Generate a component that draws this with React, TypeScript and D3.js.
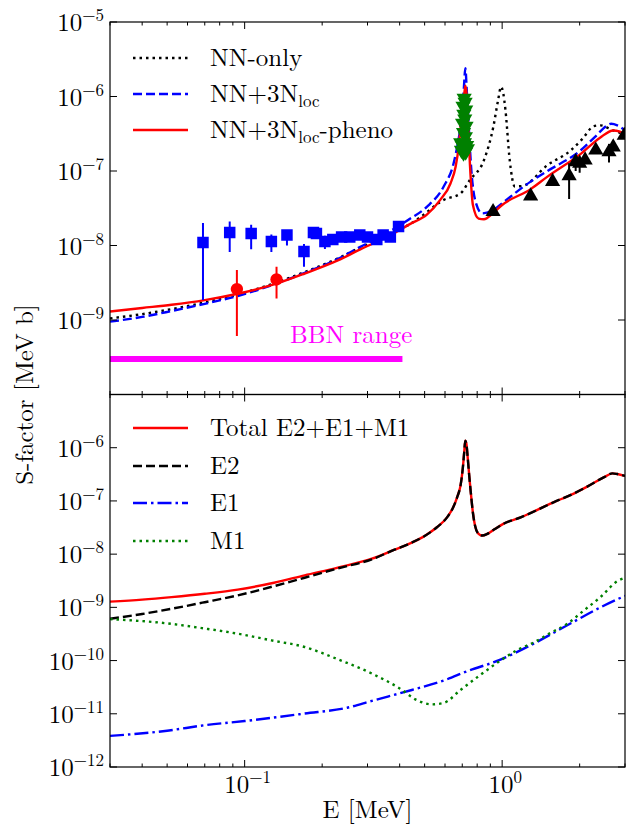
import React from "react";
import * as d3 from "d3";

type Pt = [number, number];

// top panel curves: [E (MeV), S (MeV b)]
const nnOnly: Pt[] = [
  [0.03, 1.05e-9], [0.04, 1.2e-9], [0.052, 1.4e-9], [0.07, 1.72e-9], [0.094, 2.2e-9],
  [0.13, 3.1e-9], [0.171, 4.4e-9], [0.23, 6.7e-9], [0.28, 9.3e-9], [0.33, 1.2e-8],
  [0.378, 1.5e-8], [0.44, 1.95e-8], [0.481, 2.4e-8], [0.593, 4.1e-8], [0.689, 5.0e-8],
  [0.75, 7.6e-8], [0.85, 1.4e-7], [0.924, 3.9e-7], [0.965, 9e-7], [0.99, 1.35e-6],
  [1.01, 1.1e-6], [1.03, 6.6e-7], [1.07, 1.4e-7], [1.12, 6.2e-8], [1.2, 6.3e-8],
  [1.5, 1.2e-7], [1.85, 1.9e-7], [2.05, 2.7e-7], [2.27, 4.0e-7], [2.4, 4.1e-7],
  [2.7, 3.5e-7], [3.0, 3.1e-7],
];

const nn3nLoc: Pt[] = [
  [0.03, 9.5e-10], [0.04, 1.1e-9], [0.052, 1.32e-9], [0.07, 1.65e-9], [0.094, 2.1e-9],
  [0.13, 3.0e-9], [0.171, 4.3e-9], [0.23, 6.6e-9], [0.28, 9.5e-9], [0.33, 1.27e-8],
  [0.378, 1.65e-8], [0.44, 2.3e-8], [0.51, 3.3e-8], [0.593, 6.2e-8], [0.648, 1.27e-7],
  [0.675, 2.5e-7], [0.689, 3.9e-7], [0.708, 1.1e-6], [0.72, 2.4e-6], [0.728, 1.3e-6],
  [0.736, 6.6e-7], [0.76, 9.8e-8], [0.785, 4.1e-8], [0.836, 2.7e-8], [0.924, 3.0e-8],
  [1.0, 3.7e-8], [1.29, 7.2e-8], [1.5, 1.0e-7], [2.02, 1.9e-7], [2.3, 2.9e-7],
  [2.56, 4.1e-7], [2.65, 4.3e-7], [2.8, 4.1e-7], [3.0, 3.5e-7],
];

const nn3nPheno: Pt[] = [
  [0.03, 1.3e-9], [0.04, 1.45e-9], [0.052, 1.6e-9], [0.07, 1.85e-9], [0.094, 2.25e-9],
  [0.13, 3.0e-9], [0.171, 4.2e-9], [0.23, 6.3e-9], [0.28, 8.8e-9], [0.33, 1.15e-8],
  [0.378, 1.45e-8], [0.44, 1.95e-8], [0.51, 2.6e-8], [0.575, 4.1e-8], [0.63, 6.8e-8],
  [0.66, 1.15e-7], [0.68, 2.3e-7], [0.7, 6.6e-7], [0.713, 1.1e-6], [0.72, 1.4e-6],
  [0.727, 1.1e-6], [0.735, 5.5e-7], [0.75, 1.2e-7], [0.77, 3.5e-8], [0.81, 2.3e-8],
  [0.85, 2.25e-8], [0.92, 2.7e-8], [1.0, 3.5e-8], [1.29, 5.7e-8], [1.5, 8.4e-8],
  [2.02, 1.7e-7], [2.4, 2.8e-7], [2.7, 3.5e-7], [2.85, 3.4e-7], [3.0, 3.1e-7],
];

// experimental data: [E, S, low, high]
const blueSquares: [number, number, number, number][] = [
  [0.0689, 1.1e-8, 1.85e-9, 2.0e-8], [0.0875, 1.5e-8, 8.2e-9, 2.1e-8], [0.106, 1.45e-8, 8.9e-9, 1.9e-8],
  [0.127, 1.13e-8, 8.2e-9, 1.4e-8], [0.146, 1.38e-8, 1.0e-8, 1.6e-8], [0.17, 8.3e-9, 5.2e-9, 1.05e-8],
  [0.185, 1.5e-8, 1.25e-8, 1.6e-8], [0.19, 1.45e-8, 1.3e-8, 1.6e-8], [0.205, 1.13e-8, 9e-9, 1.35e-8],
  [0.22, 1.2e-8, 1.05e-8, 1.35e-8], [0.238, 1.3e-8, 1.15e-8, 1.45e-8], [0.256, 1.3e-8, 1.15e-8, 1.45e-8],
  [0.28, 1.38e-8, 1.2e-8, 1.5e-8], [0.3, 1.3e-8, 1.15e-8, 1.45e-8], [0.326, 1.2e-8, 1.05e-8, 1.35e-8],
  [0.345, 1.38e-8, 1.2e-8, 1.5e-8], [0.368, 1.3e-8, 1.15e-8, 1.45e-8], [0.396, 1.8e-8, 1.6e-8, 2.0e-8],
];

const redCircles: [number, number, number, number][] = [
  [0.0933, 2.6e-9, 6.1e-10, 4.7e-9],
  [0.133, 3.5e-9, 1.95e-9, 5.2e-9],
];

const greenTriangles: Pt[] = [
  [0.712, 9.5e-7], [0.718, 8.4e-7], [0.705, 7.4e-7], [0.722, 6.6e-7], [0.71, 5.8e-7],
  [0.716, 5.0e-7], [0.702, 4.4e-7], [0.724, 4.0e-7], [0.708, 3.3e-7], [0.72, 2.9e-7],
  [0.69, 2.4e-7], [0.7, 2.2e-7], [0.714, 2.4e-7], [0.728, 2.2e-7], [0.695, 1.9e-7],
  [0.708, 1.75e-7], [0.722, 1.8e-7], [0.733, 2.0e-7],
];

const blackTriangles: [number, number, number, number][] = [
  [0.922, 2.84e-8, 2.6e-8, 3.1e-8], [1.29, 4.6e-8, 4.3e-8, 5.0e-8], [1.57, 7.2e-8, 6.7e-8, 7.8e-8],
  [1.82, 8.6e-8, 4.2e-8, 1.27e-7], [1.93, 1.33e-7, 1.0e-7, 1.6e-7], [2.0, 1.27e-7, 9.5e-8, 1.5e-7],
  [2.1, 1.4e-7, 1.3e-7, 1.5e-7], [2.31, 1.9e-7, 1.8e-7, 2.0e-7], [2.6, 1.8e-7, 1.3e-7, 2.3e-7],
  [2.7, 2.1e-7, 1.9e-7, 2.3e-7], [2.98, 3.0e-7, 2.8e-7, 3.2e-7],
];

const bbnRange = [0.03, 0.41];
const bbnLevel = 3e-10;

// bottom panel curves
const totalE2E1M1: Pt[] = [
  [0.03, 1.28e-9], [0.04, 1.4e-9], [0.052, 1.56e-9], [0.07, 1.8e-9], [0.094, 2.15e-9],
  [0.13, 2.9e-9], [0.171, 4.0e-9], [0.23, 5.6e-9], [0.312, 8.2e-9], [0.38, 1.2e-8],
  [0.446, 1.65e-8], [0.5, 2.2e-8], [0.558, 3.2e-8], [0.611, 4.9e-8], [0.645, 7.5e-8],
  [0.67, 1.2e-7], [0.69, 2.0e-7], [0.703, 4.0e-7], [0.712, 8.0e-7], [0.719, 1.35e-6],
  [0.726, 1.2e-6], [0.735, 6.5e-7], [0.745, 3e-7], [0.755, 1.5e-7], [0.77, 6e-8],
  [0.785, 3.4e-8], [0.81, 2.4e-8], [0.836, 2.24e-8], [0.875, 2.4e-8], [0.93, 2.9e-8],
  [1.01, 3.7e-8], [1.18, 4.9e-8], [1.37, 6.8e-8], [1.59, 9.5e-8], [1.85, 1.3e-7],
  [2.14, 1.86e-7], [2.49, 2.8e-7], [2.68, 3.3e-7], [2.8, 3.2e-7], [3.0, 2.95e-7],
];

const e2: Pt[] = [
  [0.03, 6.1e-10], [0.04, 7.5e-10], [0.052, 9.4e-10], [0.07, 1.25e-9], [0.094, 1.68e-9],
  [0.13, 2.5e-9], [0.171, 3.6e-9], [0.23, 5.4e-9], [0.312, 8.0e-9], [0.38, 1.2e-8],
  [0.446, 1.65e-8], [0.5, 2.2e-8], [0.558, 3.2e-8], [0.611, 4.9e-8], [0.645, 7.5e-8],
  [0.67, 1.2e-7], [0.69, 2.0e-7], [0.703, 4.0e-7], [0.712, 8.0e-7], [0.719, 1.35e-6],
  [0.726, 1.2e-6], [0.735, 6.5e-7], [0.745, 3e-7], [0.755, 1.5e-7], [0.77, 6e-8],
  [0.785, 3.4e-8], [0.81, 2.4e-8], [0.836, 2.24e-8], [0.875, 2.4e-8], [0.93, 2.9e-8],
  [1.01, 3.7e-8], [1.18, 4.9e-8], [1.37, 6.8e-8], [1.59, 9.5e-8], [1.85, 1.3e-7],
  [2.14, 1.86e-7], [2.49, 2.8e-7], [2.68, 3.3e-7], [2.8, 3.2e-7], [3.0, 2.95e-7],
];

const e1: Pt[] = [
  [0.03, 3.85e-12], [0.05, 4.8e-12], [0.07, 6.1e-12], [0.1, 7.3e-12], [0.171, 1.01e-11],
  [0.25, 1.3e-11], [0.312, 1.75e-11], [0.446, 2.8e-11], [0.6, 4.3e-11], [0.731, 6.3e-11],
  [0.985, 1.04e-10], [1.33, 2.1e-10], [1.79, 4.6e-10], [2.41, 1.0e-9], [3.0, 1.65e-9],
];

const m1: Pt[] = [
  [0.03, 6.0e-10], [0.05, 5.0e-10], [0.07, 4.0e-10], [0.094, 3.2e-10], [0.127, 2.4e-10],
  [0.171, 1.8e-10], [0.231, 1.05e-10], [0.312, 5.7e-11], [0.4, 3.0e-11], [0.467, 1.8e-11],
  [0.533, 1.5e-11], [0.593, 1.6e-11], [0.689, 2.8e-11], [0.82, 5.3e-11], [0.985, 1.0e-10],
  [1.14, 1.56e-10], [1.33, 2.2e-10], [1.54, 3.3e-10], [1.79, 4.9e-10], [2.08, 8.8e-10],
  [2.41, 1.56e-9], [2.8, 3.1e-9], [3.0, 3.6e-9],
];

const topExps = [-5, -6, -7, -8, -9];
const bottomExps = [-6, -7, -8, -9, -10, -11, -12];
const xExps = [-1, 0];

const FONT = "'Latin Modern Roman', 'Liberation Serif', serif";
const txt = { fontFamily: FONT };

const Pow10 = ({ x, y, e, anchor }: { x: number; y: number; e: number; anchor: string }) => (
  <text x={x} y={y} textAnchor={anchor} fontSize={25} style={txt} fill="#000">
    10<tspan dy={-10} fontSize={17}>{e === 0 ? "0" : `\u2212${Math.abs(e)}`}</tspan>
  </text>
);

export default function App() {
  const L = 110, R = 625, T = 22, M = 394.5, B = 767;
  const x = d3.scaleLog().domain([0.03, 3]).range([L, R]);
  const yTop = d3.scaleLog().domain([1e-10, 1e-5]).range([M, T]);
  const yBot = d3.scaleLog().domain([1e-12, 1e-5]).range([B, M]);

  const lineTop = d3.line<Pt>().x((d) => x(d[0])).y((d) => yTop(d[1])).curve(d3.curveMonotoneX);
  const lineBot = d3.line<Pt>().x((d) => x(d[0])).y((d) => yBot(d[1])).curve(d3.curveMonotoneX);

  const xTicks = x.ticks();
  const isMajor = (t: number) => Math.abs(Math.log10(t) - Math.round(Math.log10(t))) < 1e-6;

  const sq = d3.symbol(d3.symbolSquare, 132)()!;
  const tri = d3.symbol(d3.symbolTriangle, 100)()!;
  const circ = d3.symbol(d3.symbolCircle, 120)()!;

  const lw = 2.4;

  const xTickMarks = (y0: number, dir: number, key: string) =>
    xTicks.map((t, i) => (
      <line key={key + i} x1={x(t)} x2={x(t)} y1={y0} y2={y0 + dir * (isMajor(t) ? 7 : 3.5)} stroke="#000" strokeWidth={1} />
    ));

  const yTickMarks = (scale: d3.ScaleLogarithmic<number, number>, exps: number[], key: string) =>
    exps.map((e) => (
      <g key={key + e}>
        <line x1={L} x2={L + 7} y1={scale(10 ** e)} y2={scale(10 ** e)} stroke="#000" strokeWidth={1} />
        <line x1={R} x2={R - 7} y1={scale(10 ** e)} y2={scale(10 ** e)} stroke="#000" strokeWidth={1} />
      </g>
    ));

  const legendItem = (y: number, stroke: string, dash: string | undefined, label: React.ReactNode, key: string) => (
    <g key={key}>
      <line x1={133} x2={188} y1={y} y2={y} stroke={stroke} strokeWidth={lw} strokeDasharray={dash} />
      <text x={210} y={y + 8} fontSize={25} style={txt} fill="#000">{label}</text>
    </g>
  );

  return (
    <svg width={627} height={829} style={{ position: "absolute", left: 0, top: 0, background: "#fff" }}>
      <defs>
        <clipPath id="clipTop"><rect x={L} y={T} width={R - L} height={M - T} /></clipPath>
        <clipPath id="clipBot"><rect x={L} y={M} width={R - L} height={B - M} /></clipPath>
      </defs>
      <rect width={627} height={829} fill="#fff" />

      {/* top panel */}
      <g clipPath="url(#clipTop)">
        <line x1={x(bbnRange[0])} x2={x(bbnRange[1])} y1={yTop(bbnLevel)} y2={yTop(bbnLevel)} stroke="#ff00ff" strokeWidth={6} />
        <path d={lineTop(nnOnly)!} fill="none" stroke="#000" strokeWidth={lw} strokeDasharray="2.5,4" />
        <path d={lineTop(nn3nLoc)!} fill="none" stroke="#0000ff" strokeWidth={lw} strokeDasharray="9,4" />
        <path d={lineTop(nn3nPheno)!} fill="none" stroke="#ff0000" strokeWidth={lw} />
        {blueSquares.map((d, i) => (
          <g key={"bs" + i}>
            <line x1={x(d[0])} x2={x(d[0])} y1={yTop(d[2])} y2={yTop(d[3])} stroke="#0000ff" strokeWidth={2} />
            <path d={sq} transform={`translate(${x(d[0])},${yTop(d[1])})`} fill="#0000ff" />
          </g>
        ))}
        {redCircles.map((d, i) => (
          <g key={"rc" + i}>
            <line x1={x(d[0])} x2={x(d[0])} y1={yTop(d[2])} y2={yTop(d[3])} stroke="#ff0000" strokeWidth={2} />
            <path d={circ} transform={`translate(${x(d[0])},${yTop(d[1])})`} fill="#ff0000" />
          </g>
        ))}
        {greenTriangles.map((d, i) => (
          <path key={"gt" + i} d={tri} transform={`translate(${x(d[0])},${yTop(d[1])}) rotate(180)`} fill="#008000" />
        ))}
        {blackTriangles.map((d, i) => (
          <g key={"bt" + i}>
            <line x1={x(d[0])} x2={x(d[0])} y1={yTop(d[2])} y2={yTop(d[3])} stroke="#000" strokeWidth={2} />
            <path d={tri} transform={`translate(${x(d[0])},${yTop(d[1])})`} fill="#000" />
          </g>
        ))}
      </g>
      <text x={x(0.15)} y={yTop(4.9e-10)} fontSize={25} style={txt} fill="#ff00ff">BBN range</text>

      {legendItem(58, "#000", "2.5,4", "NN-only", "l1")}
      {legendItem(94, "#0000ff", "9,4", <>NN+3N<tspan dy={5} fontSize={17}>loc</tspan></>, "l2")}
      {legendItem(130, "#ff0000", undefined, <>NN+3N<tspan dy={5} fontSize={17}>loc</tspan><tspan dy={-5}>-pheno</tspan></>, "l3")}

      {/* bottom panel */}
      <g clipPath="url(#clipBot)">
        <path d={lineBot(totalE2E1M1)!} fill="none" stroke="#ff0000" strokeWidth={lw} />
        <path d={lineBot(e2)!} fill="none" stroke="#000" strokeWidth={lw} strokeDasharray="9,4" />
        <path d={lineBot(e1)!} fill="none" stroke="#0000ff" strokeWidth={lw} strokeDasharray="14,4,2.5,4" />
        <path d={lineBot(m1)!} fill="none" stroke="#008000" strokeWidth={lw} strokeDasharray="2.5,4" />
      </g>
      {legendItem(428, "#ff0000", undefined, "Total E2+E1+M1", "b1")}
      {legendItem(466, "#000", "9,4", "E2", "b2")}
      {legendItem(503, "#0000ff", "14,4,2.5,4", "E1", "b3")}
      {legendItem(541, "#008000", "2.5,4", "M1", "b4")}

      {/* frames and ticks */}
      <rect x={L} y={T} width={R - L} height={M - T} fill="none" stroke="#000" strokeWidth={1.2} />
      <rect x={L} y={M} width={R - L} height={B - M} fill="none" stroke="#000" strokeWidth={1.2} />
      {xTickMarks(T, 1, "xt1")}
      {xTickMarks(M, -1, "xt2")}
      {xTickMarks(M, 1, "xt3")}
      {xTickMarks(B, -1, "xt4")}
      {yTickMarks(yTop, topExps, "yt")}
      {yTickMarks(yBot, bottomExps, "yb")}

      {topExps.map((e) => <Pow10 key={"lt" + e} x={104} y={yTop(10 ** e) + 9} e={e} anchor="end" />)}
      {bottomExps.map((e) => <Pow10 key={"lb" + e} x={104} y={yBot(10 ** e) + 9} e={e} anchor="end" />)}
      {xExps.map((e) => <Pow10 key={"lx" + e} x={x(10 ** e) + 3} y={B + 26} e={e} anchor="middle" />)}

      <text transform={`translate(33,${M}) rotate(-90)`} textAnchor="middle" fontSize={25} style={txt} fill="#000">
        S-factor [MeV b]
      </text>
      <text x={(L + R) / 2} y={818} textAnchor="middle" fontSize={25} style={txt} fill="#000">
        E [MeV]
      </text>
    </svg>
  );
}
